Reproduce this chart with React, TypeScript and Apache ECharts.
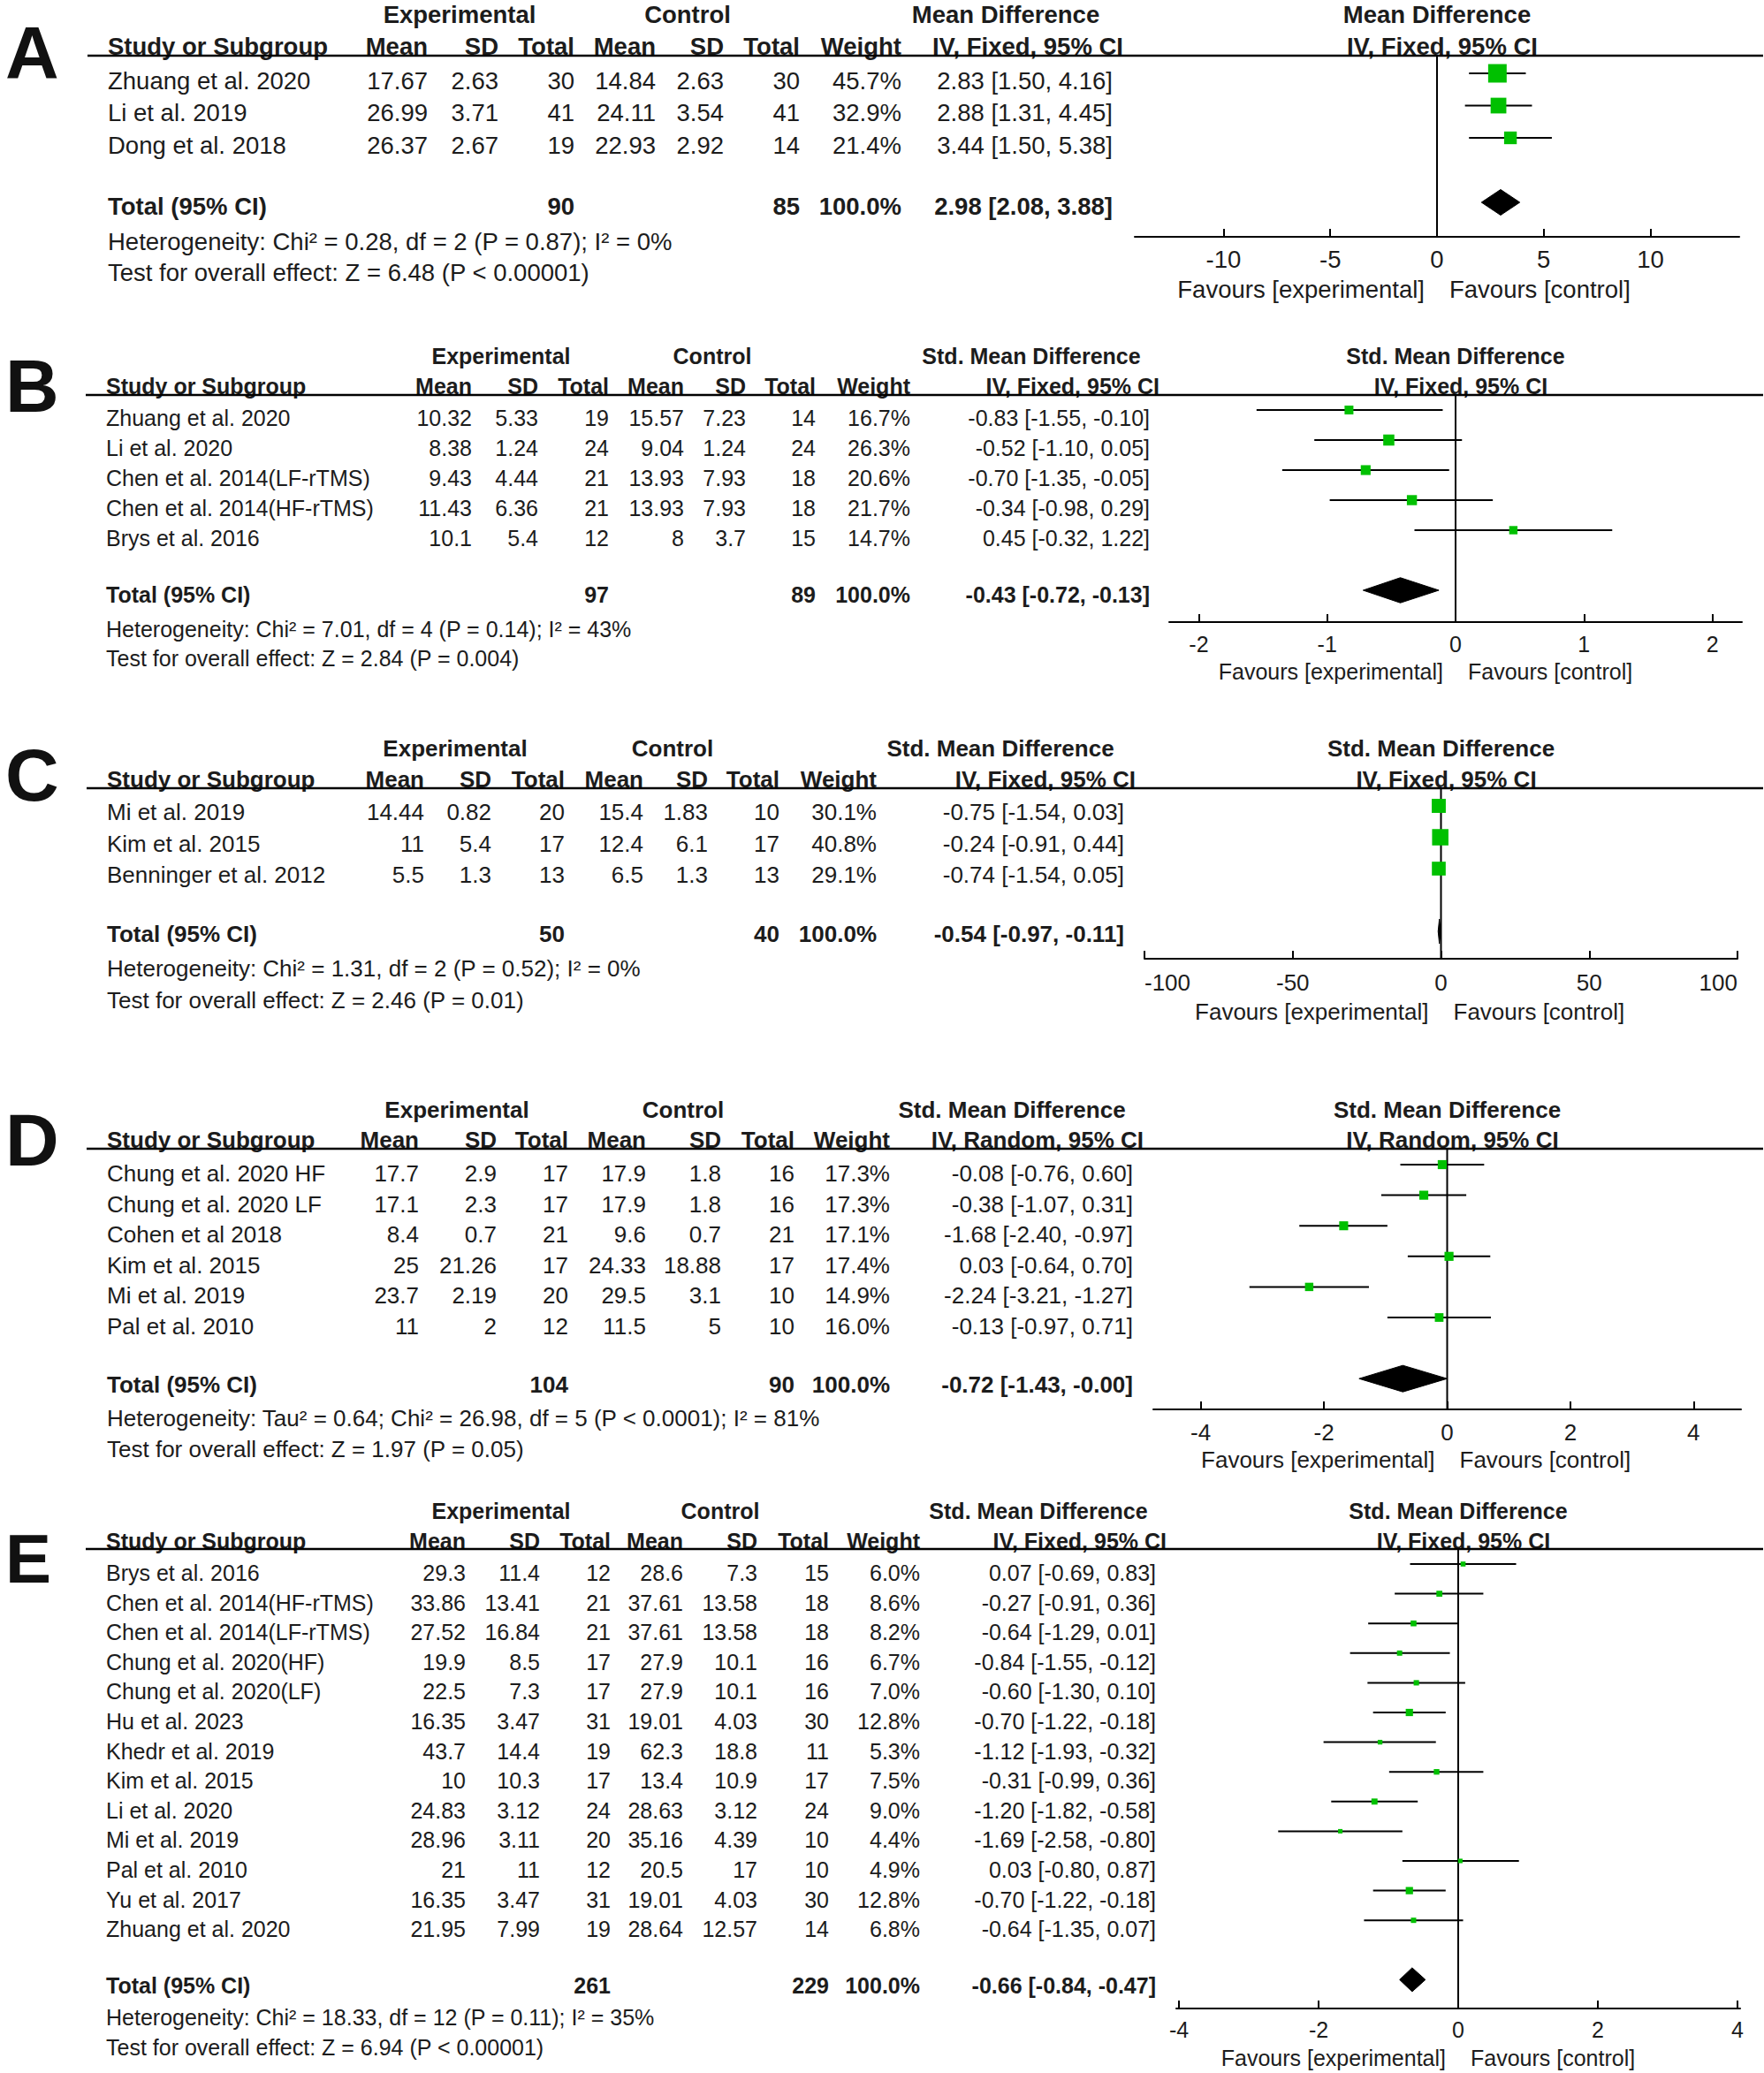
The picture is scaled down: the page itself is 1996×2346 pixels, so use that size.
import React, { useEffect, useRef } from "react";
import * as echarts from "echarts";

// ---------------- Panel A ----------------
const A_STUDIES = ["Zhuang et al. 2020", "Li et al. 2019", "Dong et al. 2018"];
const A_EXP_MEAN = [17.67, 26.99, 26.37];
const A_EXP_SD = [2.63, 3.71, 2.67];
const A_EXP_N = [30, 41, 19];
const A_CTL_MEAN = [14.84, 24.11, 22.93];
const A_CTL_SD = [2.63, 3.54, 2.92];
const A_CTL_N = [30, 41, 14];
const A_WEIGHT = [45.7, 32.9, 21.4];
const A_MD = [2.83, 2.88, 3.44];
const A_LO = [1.5, 1.31, 1.5];
const A_HI = [4.16, 4.45, 5.38];
const A_TOTAL_N = [90, 85];
const A_TOTAL = [2.98, 2.08, 3.88];
const A_TICKS = [-10, -5, 0, 5, 10];

// ---------------- Panel B ----------------
const B_STUDIES = ["Zhuang et al. 2020", "Li et al. 2020", "Chen et al. 2014(LF-rTMS)", "Chen et al. 2014(HF-rTMS)", "Brys et al. 2016"];
const B_EXP_MEAN = [10.32, 8.38, 9.43, 11.43, 10.1];
const B_EXP_SD = [5.33, 1.24, 4.44, 6.36, 5.4];
const B_EXP_N = [19, 24, 21, 21, 12];
const B_CTL_MEAN = [15.57, 9.04, 13.93, 13.93, 8];
const B_CTL_SD = [7.23, 1.24, 7.93, 7.93, 3.7];
const B_CTL_N = [14, 24, 18, 18, 15];
const B_WEIGHT = [16.7, 26.3, 20.6, 21.7, 14.7];
const B_MD = [-0.83, -0.52, -0.7, -0.34, 0.45];
const B_LO = [-1.55, -1.1, -1.35, -0.98, -0.32];
const B_HI = [-0.1, 0.05, -0.05, 0.29, 1.22];
const B_TOTAL_N = [97, 89];
const B_TOTAL = [-0.43, -0.72, -0.13];
const B_TICKS = [-2, -1, 0, 1, 2];

// ---------------- Panel C ----------------
const C_STUDIES = ["Mi et al. 2019", "Kim et al. 2015", "Benninger et al. 2012"];
const C_EXP_MEAN = [14.44, 11, 5.5];
const C_EXP_SD = [0.82, 5.4, 1.3];
const C_EXP_N = [20, 17, 13];
const C_CTL_MEAN = [15.4, 12.4, 6.5];
const C_CTL_SD = [1.83, 6.1, 1.3];
const C_CTL_N = [10, 17, 13];
const C_WEIGHT = [30.1, 40.8, 29.1];
const C_MD = [-0.75, -0.24, -0.74];
const C_LO = [-1.54, -0.91, -1.54];
const C_HI = [0.03, 0.44, 0.05];
const C_TOTAL_N = [50, 40];
const C_TOTAL = [-0.54, -0.97, -0.11];
const C_TICKS = [-100, -50, 0, 50, 100];

// ---------------- Panel D ----------------
const D_STUDIES = ["Chung et al. 2020 HF", "Chung et al. 2020 LF", "Cohen et al 2018", "Kim et al. 2015", "Mi et al. 2019", "Pal et al. 2010"];
const D_EXP_MEAN = [17.7, 17.1, 8.4, 25, 23.7, 11];
const D_EXP_SD = [2.9, 2.3, 0.7, 21.26, 2.19, 2];
const D_EXP_N = [17, 17, 21, 17, 20, 12];
const D_CTL_MEAN = [17.9, 17.9, 9.6, 24.33, 29.5, 11.5];
const D_CTL_SD = [1.8, 1.8, 0.7, 18.88, 3.1, 5];
const D_CTL_N = [16, 16, 21, 17, 10, 10];
const D_WEIGHT = [17.3, 17.3, 17.1, 17.4, 14.9, 16.0];
const D_MD = [-0.08, -0.38, -1.68, 0.03, -2.24, -0.13];
const D_LO = [-0.76, -1.07, -2.4, -0.64, -3.21, -0.97];
const D_HI = [0.6, 0.31, -0.97, 0.7, -1.27, 0.71];
const D_TOTAL_N = [104, 90];
const D_TOTAL = [-0.72, -1.43, -0];
const D_TICKS = [-4, -2, 0, 2, 4];

// ---------------- Panel E ----------------
const E_STUDIES = ["Brys et al. 2016", "Chen et al. 2014(HF-rTMS)", "Chen et al. 2014(LF-rTMS)", "Chung et al. 2020(HF)", "Chung et al. 2020(LF)", "Hu et al. 2023", "Khedr et al. 2019", "Kim et al. 2015", "Li et al. 2020", "Mi et al. 2019", "Pal et al. 2010", "Yu et al. 2017", "Zhuang et al. 2020"];
const E_EXP_MEAN = [29.3, 33.86, 27.52, 19.9, 22.5, 16.35, 43.7, 10, 24.83, 28.96, 21, 16.35, 21.95];
const E_EXP_SD = [11.4, 13.41, 16.84, 8.5, 7.3, 3.47, 14.4, 10.3, 3.12, 3.11, 11, 3.47, 7.99];
const E_EXP_N = [12, 21, 21, 17, 17, 31, 19, 17, 24, 20, 12, 31, 19];
const E_CTL_MEAN = [28.6, 37.61, 37.61, 27.9, 27.9, 19.01, 62.3, 13.4, 28.63, 35.16, 20.5, 19.01, 28.64];
const E_CTL_SD = [7.3, 13.58, 13.58, 10.1, 10.1, 4.03, 18.8, 10.9, 3.12, 4.39, 17, 4.03, 12.57];
const E_CTL_N = [15, 18, 18, 16, 16, 30, 11, 17, 24, 10, 10, 30, 14];
const E_WEIGHT = [6.0, 8.6, 8.2, 6.7, 7.0, 12.8, 5.3, 7.5, 9.0, 4.4, 4.9, 12.8, 6.8];
const E_MD = [0.07, -0.27, -0.64, -0.84, -0.6, -0.7, -1.12, -0.31, -1.2, -1.69, 0.03, -0.7, -0.64];
const E_LO = [-0.69, -0.91, -1.29, -1.55, -1.3, -1.22, -1.93, -0.99, -1.82, -2.58, -0.8, -1.22, -1.35];
const E_HI = [0.83, 0.36, 0.01, -0.12, 0.1, -0.18, -0.32, 0.36, -0.58, -0.8, 0.87, -0.18, 0.07];
const E_TOTAL_N = [261, 229];
const E_TOTAL = [-0.66, -0.84, -0.47];
const E_TICKS = [-4, -2, 0, 2, 4];

// ---------------- texts ----------------
const LETTERS = ["A", "B", "C", "D", "E"];
const EFFECTS = ["Mean Difference", "Std. Mean Difference", "Std. Mean Difference", "Std. Mean Difference", "Std. Mean Difference"];
const METHODS = ["IV, Fixed, 95% CI", "IV, Fixed, 95% CI", "IV, Fixed, 95% CI", "IV, Random, 95% CI", "IV, Fixed, 95% CI"];
const HETS = [
  "Heterogeneity: Chi² = 0.28, df = 2 (P = 0.87); I² = 0%",
  "Heterogeneity: Chi² = 7.01, df = 4 (P = 0.14); I² = 43%",
  "Heterogeneity: Chi² = 1.31, df = 2 (P = 0.52); I² = 0%",
  "Heterogeneity: Tau² = 0.64; Chi² = 26.98, df = 5 (P < 0.0001); I² = 81%",
  "Heterogeneity: Chi² = 18.33, df = 12 (P = 0.11); I² = 35%",
];
const TESTS = [
  "Test for overall effect: Z = 6.48 (P < 0.00001)",
  "Test for overall effect: Z = 2.84 (P = 0.004)",
  "Test for overall effect: Z = 2.46 (P = 0.01)",
  "Test for overall effect: Z = 1.97 (P = 0.05)",
  "Test for overall effect: Z = 6.94 (P < 0.00001)",
];
const COL_HEADERS = ["Mean", "SD", "Total", "Mean", "SD", "Total", "Weight"];

const DATA = [
  { studies: A_STUDIES, cols: [A_EXP_MEAN, A_EXP_SD, A_EXP_N, A_CTL_MEAN, A_CTL_SD, A_CTL_N], weight: A_WEIGHT, md: A_MD, lo: A_LO, hi: A_HI, totalN: A_TOTAL_N, total: A_TOTAL, ticks: A_TICKS },
  { studies: B_STUDIES, cols: [B_EXP_MEAN, B_EXP_SD, B_EXP_N, B_CTL_MEAN, B_CTL_SD, B_CTL_N], weight: B_WEIGHT, md: B_MD, lo: B_LO, hi: B_HI, totalN: B_TOTAL_N, total: B_TOTAL, ticks: B_TICKS },
  { studies: C_STUDIES, cols: [C_EXP_MEAN, C_EXP_SD, C_EXP_N, C_CTL_MEAN, C_CTL_SD, C_CTL_N], weight: C_WEIGHT, md: C_MD, lo: C_LO, hi: C_HI, totalN: C_TOTAL_N, total: C_TOTAL, ticks: C_TICKS },
  { studies: D_STUDIES, cols: [D_EXP_MEAN, D_EXP_SD, D_EXP_N, D_CTL_MEAN, D_CTL_SD, D_CTL_N], weight: D_WEIGHT, md: D_MD, lo: D_LO, hi: D_HI, totalN: D_TOTAL_N, total: D_TOTAL, ticks: D_TICKS },
  { studies: E_STUDIES, cols: [E_EXP_MEAN, E_EXP_SD, E_EXP_N, E_CTL_MEAN, E_CTL_SD, E_CTL_N], weight: E_WEIGHT, md: E_MD, lo: E_LO, hi: E_HI, totalN: E_TOTAL_N, total: E_TOTAL, ticks: E_TICKS },
];

// ---------------- layout (pixels) ----------------
const LAYOUT = [
  { fs: 27.5, letterFs: 84, letterY: 60, head1Y: 16, head2Y: 52, lineY: 63, row0: 91, sp: 36.5, totalY: 233, hetY: 273, testY: 308, mark0: 83, axisY: 268, tickY: 293, favY: 327, axisL: 1284, axisR: 1968, xMin: -14.16, xMax: 14.16, colX: [122, 484, 564, 650, 742, 819, 905, 1020, 1259], h1: [520, 778, 1138], ciHeadR: 1271, sqK: 3.1, dh: 29, edgeAlign: false },
  { fs: 25, letterFs: 84, letterY: 437, head1Y: 403, head2Y: 437, lineY: 447, row0: 473, sp: 34.0, totalY: 673, hetY: 712, testY: 745, mark0: 464, axisY: 704, tickY: 729, favY: 760, axisL: 1323, axisR: 1971, xMin: -2.23, xMax: 2.23, colX: [120, 534, 609, 689, 774, 844, 923, 1030, 1301], h1: [567, 806, 1167], ciHeadR: 1312, sqK: 2.45, dh: 28.5, edgeAlign: false },
  { fs: 26, letterFs: 84, letterY: 877, head1Y: 847, head2Y: 882, lineY: 892, row0: 919, sp: 35.5, totalY: 1057, hetY: 1096, testY: 1132, mark0: 912, axisY: 1085, tickY: 1112, favY: 1145, axisL: 1295, axisR: 1966, xMin: -100, xMax: 100, colX: [121, 480, 556, 639, 728, 801, 882, 992, 1272], h1: [515, 761, 1132], ciHeadR: 1285, sqK: 2.9, dh: 28, edgeAlign: true },
  { fs: 26, letterFs: 84, letterY: 1290, head1Y: 1256, head2Y: 1290, lineY: 1300, row0: 1328, sp: 34.6, totalY: 1567, hetY: 1605, testY: 1640, mark0: 1318, axisY: 1595, tickY: 1621, favY: 1652, axisL: 1305, axisR: 1970, xMin: -4.77, xMax: 4.77, colX: [121, 474, 562, 643, 731, 816, 899, 1007, 1282], h1: [517, 773, 1145], ciHeadR: 1294, sqK: 2.45, dh: 30, edgeAlign: false },
  { fs: 25, letterFs: 78, letterY: 1764, head1Y: 1710, head2Y: 1744, lineY: 1753, row0: 1780, sp: 33.6, totalY: 2247, hetY: 2283, testY: 2317, mark0: 1770, axisY: 2273, tickY: 2297, favY: 2329, axisL: 1331, axisR: 1969, xMin: -4.04, xMax: 4.04, colX: [120, 527, 611, 691, 773, 857, 938, 1041, 1308], h1: [567, 815, 1175], ciHeadR: 1320, sqK: 2.3, dh: 27, edgeAlign: false },
];

const FONT = '"Liberation Sans", Arial, sans-serif';
const INK = "#1c1c1c";
const GREEN = "#00c000";
const W = 1996;
const H = 2346;

const fmt2 = (v: number) => (Object.is(v, -0) ? "-" : "") + v.toFixed(2);
const ciText = (m: number, l: number, h: number) => `${fmt2(m)} [${fmt2(l)}, ${fmt2(h)}]`;

function txt(x: number, y: number, text: string, fs: number, align: string, bold = false, fill = INK) {
  return {
    type: "text",
    x,
    y,
    silent: true,
    style: {
      text,
      fill,
      fontSize: fs,
      fontFamily: FONT,
      fontWeight: bold ? "bold" : "normal",
      align,
      verticalAlign: "middle",
      textAlign: align,
      textVerticalAlign: "middle",
    },
  };
}

function buildOption() {
  const graphics: any[] = [];
  const grids: any[] = [];
  const xAxes: any[] = [];
  const yAxes: any[] = [];
  const series: any[] = [];

  DATA.forEach((d, k) => {
    const L = LAYOUT[k];
    const fs = L.fs;
    const n = d.studies.length;
    const c = L.colX;

    // panel letter
    graphics.push(txt(6, L.letterY, LETTERS[k], L.letterFs, "left", true, "#111"));

    // header row 1
    graphics.push(txt(L.h1[0], L.head1Y, "Experimental", fs, "center", true));
    graphics.push(txt(L.h1[1], L.head1Y, "Control", fs, "center", true));
    graphics.push(txt(L.h1[2], L.head1Y, EFFECTS[k], fs, "center", true));
    const centerX = (L.axisL + L.axisR) / 2;
    graphics.push(txt(centerX, L.head1Y, EFFECTS[k], fs, "center", true));

    // header row 2
    graphics.push(txt(c[0], L.head2Y, "Study or Subgroup", fs, "left", true));
    COL_HEADERS.forEach((h, j) => graphics.push(txt(c[j + 1], L.head2Y, h, fs, "right", true)));
    graphics.push(txt(L.ciHeadR, L.head2Y, METHODS[k], fs, "right", true));
    graphics.push(txt(centerX + 6, L.head2Y, METHODS[k], fs, "center", true));

    // header rule
    graphics.push({
      type: "line",
      silent: true,
      shape: { x1: c[0] - 23, y1: L.lineY, x2: W - 1, y2: L.lineY },
      style: { stroke: "#000", lineWidth: 2.5 },
    });

    // study rows
    d.studies.forEach((s, i) => {
      const y = L.row0 + i * L.sp;
      graphics.push(txt(c[0], y, s, fs, "left"));
      d.cols.forEach((col, j) => graphics.push(txt(c[j + 1], y, String(col[i]), fs, "right")));
      graphics.push(txt(c[7], y, d.weight[i].toFixed(1) + "%", fs, "right"));
      graphics.push(txt(c[8], y, ciText(d.md[i], d.lo[i], d.hi[i]), fs, "right"));
    });

    // total row
    graphics.push(txt(c[0], L.totalY, "Total (95% CI)", fs, "left", true));
    graphics.push(txt(c[3], L.totalY, String(d.totalN[0]), fs, "right", true));
    graphics.push(txt(c[6], L.totalY, String(d.totalN[1]), fs, "right", true));
    graphics.push(txt(c[7], L.totalY, "100.0%", fs, "right", true));
    graphics.push(txt(c[8], L.totalY, ciText(d.total[0], d.total[1], d.total[2]), fs, "right", true));

    graphics.push(txt(c[0], L.hetY, HETS[k], fs, "left"));
    graphics.push(txt(c[0], L.testY, TESTS[k], fs, "left"));

    // favours labels
    const zeroX = L.axisL + ((0 - L.xMin) / (L.xMax - L.xMin)) * (L.axisR - L.axisL);
    graphics.push(txt(zeroX - 14, L.favY, "Favours [experimental]", fs, "right"));
    graphics.push(txt(zeroX + 14, L.favY, "Favours [control]", fs, "left"));

    // forest grid
    const yMin = (L.lineY - L.mark0) / L.sp;
    const yMax = (L.axisY - L.mark0) / L.sp;
    grids.push({
      left: L.axisL,
      width: L.axisR - L.axisL,
      top: L.lineY,
      height: L.axisY - L.lineY,
      containLabel: false,
      outerBoundsMode: "none",
    });
    xAxes.push({
      gridIndex: k,
      type: "value",
      min: L.xMin,
      max: L.xMax,
      position: "bottom",
      axisLine: { show: true, onZero: false, lineStyle: { color: "#000", width: 2 } },
      axisTick: { show: true, inside: true, length: 9, customValues: d.ticks, lineStyle: { color: "#000", width: 2 } },
      axisLabel: {
        show: true,
        customValues: d.ticks,
        fontSize: fs,
        fontFamily: FONT,
        color: INK,
        margin: L.tickY - L.axisY - fs * 0.5,
        ...(L.edgeAlign ? { alignMinLabel: "left", alignMaxLabel: "right" } : {}),
      },
      splitLine: { show: false },
    });
    yAxes.push({ gridIndex: k, type: "value", inverse: true, min: yMin, max: yMax, show: false });

    // zero line
    series.push({
      type: "line",
      xAxisIndex: k,
      yAxisIndex: k,
      data: [[0, yMin], [0, yMax]],
      showSymbol: false,
      symbol: "none",
      silent: true,
      lineStyle: { color: "#000", width: 2 },
      z: 1,
    });

    // study whiskers + squares
    const sqK = L.sqK;
    series.push({
      type: "custom",
      xAxisIndex: k,
      yAxisIndex: k,
      silent: true,
      z: 3,
      data: d.studies.map((_, i) => [i, d.md[i], d.lo[i], d.hi[i], d.weight[i]]),
      renderItem: (params: any, api: any) => {
        const y = api.value(0);
        const pLo = api.coord([api.value(2), y]);
        const pHi = api.coord([api.value(3), y]);
        const pM = api.coord([api.value(1), y]);
        const s = Math.max(5, sqK * Math.sqrt(api.value(4)));
        return {
          type: "group",
          children: [
            { type: "line", shape: { x1: pLo[0], y1: pLo[1], x2: pHi[0], y2: pHi[1] }, style: { stroke: "#000", lineWidth: 2 } },
            { type: "rect", shape: { x: pM[0] - s / 2, y: pM[1] - s / 2, width: s, height: s }, style: { fill: GREEN } },
          ],
        };
      },
    });

    // pooled diamond
    const dh = L.dh;
    series.push({
      type: "custom",
      xAxisIndex: k,
      yAxisIndex: k,
      silent: true,
      z: 3,
      data: [[n + 1, d.total[0], d.total[1], d.total[2]]],
      renderItem: (params: any, api: any) => {
        const y = api.value(0);
        const pM = api.coord([api.value(1), y]);
        const pLo = api.coord([api.value(2), y]);
        const pHi = api.coord([api.value(3), y]);
        return {
          type: "polygon",
          shape: {
            points: [
              [pLo[0], pM[1]],
              [pM[0], pM[1] - dh / 2],
              [pHi[0], pM[1]],
              [pM[0], pM[1] + dh / 2],
            ],
          },
          style: { fill: "#000", stroke: "#000", lineWidth: 1 },
        };
      },
    });
  });

  return {
    animation: false,
    backgroundColor: "#ffffff",
    grid: grids,
    xAxis: xAxes,
    yAxis: yAxes,
    series,
    graphic: { elements: graphics },
  };
}

export default function App() {
  const ref = useRef<HTMLDivElement>(null);
  useEffect(() => {
    document.body.style.margin = "0";
    if (!ref.current) return;
    const chart = echarts.init(ref.current, undefined, { renderer: "svg" });
    chart.setOption(buildOption() as any);
    return () => chart.dispose();
  }, []);
  return <div ref={ref} style={{ width: W, height: H, background: "#fff" }} />;
}
